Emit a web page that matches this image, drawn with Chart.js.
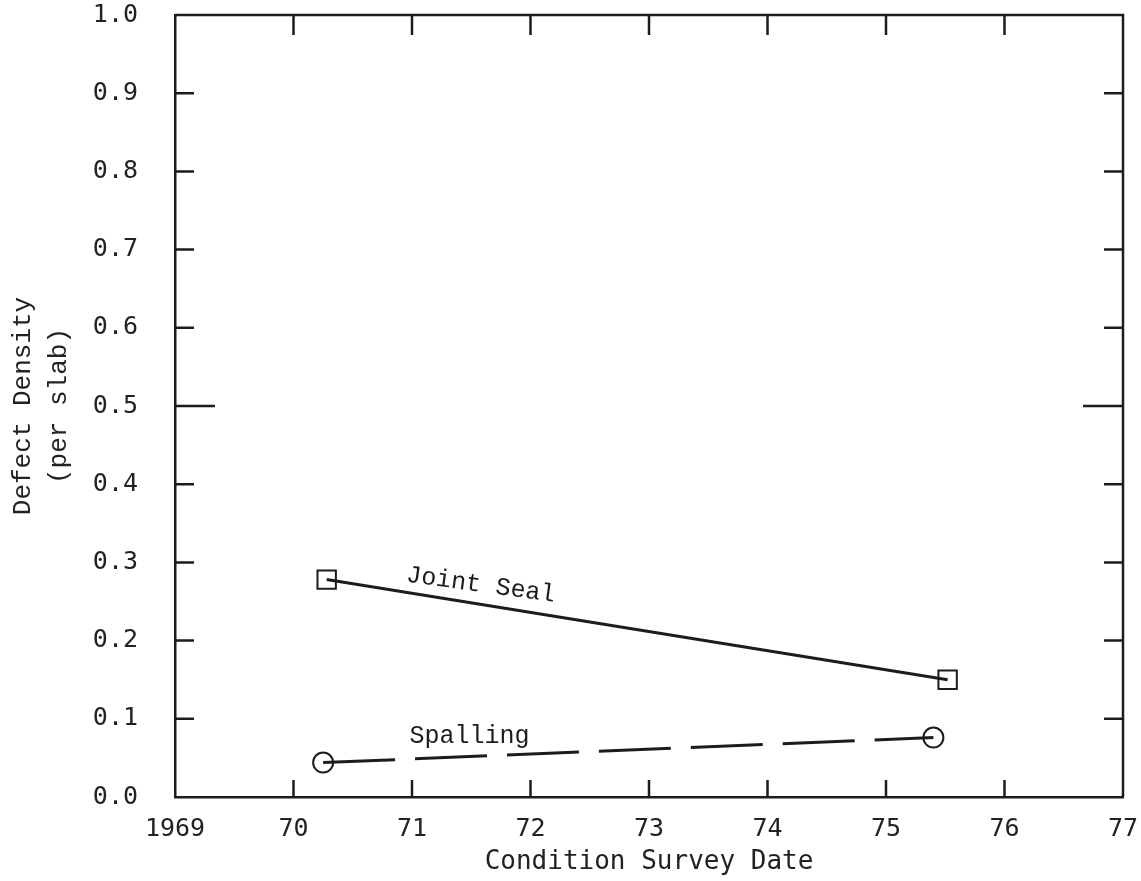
<!DOCTYPE html>
<html>
<head>
<meta charset="utf-8">
<script src="https://cdn.jsdelivr.net/npm/chart.js@4.4.1/dist/chart.umd.min.js"></script>
<style>
  html, body { margin: 0; padding: 0; background: #ffffff; }
  #wrap { width: 1141px; height: 881px; }
</style>
</head>
<body>
<div id="wrap"><canvas id="c" width="1141" height="881"></canvas></div>
<script>
// ---- data ----
const jointSealYears = [1970.28, 1975.52];
const jointSealValues = [0.278, 0.150];
const spallingYears = [1970.25, 1975.40];
const spallingValues = [0.044, 0.076];
const xTickValues = [1969, 1970, 1971, 1972, 1973, 1974, 1975, 1976, 1977];
const xTickLabels = ['1969', '70', '71', '72', '73', '74', '75', '76', '77'];
const yTickLabels = ['0.0', '0.1', '0.2', '0.3', '0.4', '0.5', '0.6', '0.7', '0.8', '0.9', '1.0'];
const seriesNames = ['Joint Seal', 'Spalling'];

const INK = '#1c1c1c';
const toPts = (xs, ys) => xs.map((x, i) => ({ x: x, y: ys[i] }));

// inward ticks, top/right frame and in-plot series labels
const framePlugin = {
  id: 'frame',
  afterDatasetsDraw(chart) {
    const { ctx, chartArea: a, scales: { x, y } } = chart;
    ctx.save();
    ctx.strokeStyle = INK;
    ctx.lineWidth = 2.5;
    ctx.lineCap = 'butt';
    // top and right frame
    ctx.beginPath();
    ctx.moveTo(a.left, a.top); ctx.lineTo(a.right, a.top); ctx.lineTo(a.right, a.bottom);
    ctx.stroke();
    // x ticks (top and bottom, inward)
    xTickValues.forEach((v, i) => {
      if (i === 0 || i === xTickValues.length - 1) return;
      const px = x.getPixelForValue(v);
      ctx.beginPath();
      ctx.moveTo(px, a.top); ctx.lineTo(px, a.top + 20);
      ctx.moveTo(px, a.bottom); ctx.lineTo(px, a.bottom - 17);
      ctx.stroke();
    });
    // y ticks (left and right, inward)
    yTickLabels.forEach((lab, i) => {
      if (i === 0 || i === yTickLabels.length - 1) return;
      const py = y.getPixelForValue(parseFloat(lab));
      const len = lab === '0.5' ? 40 : 19;
      ctx.beginPath();
      ctx.moveTo(a.left, py); ctx.lineTo(a.left + len, py);
      ctx.moveTo(a.right, py); ctx.lineTo(a.right - len, py);
      ctx.stroke();
    });
    // series labels
    ctx.fillStyle = INK;
    ctx.font = '25px "Liberation Mono", monospace';
    ctx.textAlign = 'center';
    ctx.textBaseline = 'middle';
    // Joint Seal label along its line
    const jx0 = x.getPixelForValue(jointSealYears[0]), jy0 = y.getPixelForValue(jointSealValues[0]);
    const jx1 = x.getPixelForValue(jointSealYears[1]), jy1 = y.getPixelForValue(jointSealValues[1]);
    const ang = Math.atan2(jy1 - jy0, jx1 - jx0) * 0.85;
    const t = 0.245;
    const lx = jx0 + (jx1 - jx0) * t, ly = jy0 + (jy1 - jy0) * t;
    ctx.save();
    ctx.translate(lx + 2, ly - 19);
    ctx.rotate(ang);
    ctx.fillText(seriesNames[0], 0, 0);
    ctx.restore();
    // Spalling label
    const sx0 = x.getPixelForValue(spallingYears[0]), sy0 = y.getPixelForValue(spallingValues[0]);
    const sx1 = x.getPixelForValue(spallingYears[1]), sy1 = y.getPixelForValue(spallingValues[1]);
    const s = 0.24;
    ctx.fillText(seriesNames[1], sx0 + (sx1 - sx0) * s, sy0 + (sy1 - sy0) * s - 20);
    ctx.restore();
  }
};

new Chart(document.getElementById('c'), {
  type: 'scatter',
  data: {
    datasets: [
      {
        label: seriesNames[0],
        data: toPts(jointSealYears, jointSealValues),
        showLine: true,
        borderColor: INK,
        borderWidth: 3,
        pointStyle: 'rect',
        pointRadius: 13,
        pointBorderWidth: 2,
        pointBorderColor: INK,
        pointBackgroundColor: 'rgba(0,0,0,0)'
      },
      {
        label: seriesNames[1],
        data: toPts(spallingYears, spallingValues),
        showLine: true,
        borderColor: INK,
        borderWidth: 3,
        borderDash: [72, 20],
        pointStyle: 'circle',
        pointRadius: 10,
        pointBorderWidth: 2,
        pointBorderColor: INK,
        pointBackgroundColor: 'rgba(0,0,0,0)'
      }
    ]
  },
  options: {
    responsive: false,
    devicePixelRatio: 1,
    animation: false,
    events: [],
    layout: { padding: { top: 12, right: 18, left: 0, bottom: 0 } },
    plugins: { legend: { display: false }, tooltip: { enabled: false } },
    scales: {
      x: {
        type: 'linear',
        min: 1969, max: 1977,
        afterBuildTicks: (sc) => { sc.ticks = xTickValues.map(v => ({ value: v })); },
        afterFit: (sc) => { sc.height = 84; sc.paddingLeft = 0; sc.paddingRight = 0; },
        grid: { display: false, drawTicks: false },
        border: { display: true, color: INK, width: 2.5 },
        ticks: {
          color: '#222',
          padding: 17,
          maxRotation: 0,
          autoSkip: false,
          font: { family: '"DejaVu Sans Mono", monospace', size: 25 },
          callback: (v) => xTickLabels[xTickValues.indexOf(v)]
        },
        title: {
          display: true,
          text: 'Condition Survey Date',
          color: '#222',
          font: { family: '"DejaVu Sans Mono", monospace', size: 26, lineHeight: 1.2 },
          padding: { top: 0, bottom: 3 }
        }
      },
      y: {
        type: 'linear',
        min: 0, max: 1,
        afterBuildTicks: (sc) => { sc.ticks = yTickLabels.map(l => ({ value: parseFloat(l) })); },
        afterFit: (sc) => { sc.width = 175; sc.paddingTop = 0; sc.paddingBottom = 0; },
        grid: { display: false, drawTicks: false },
        border: { display: true, color: INK, width: 2.5 },
        ticks: {
          color: '#222',
          padding: 37,
          autoSkip: false,
          font: { family: '"DejaVu Sans Mono", monospace', size: 25 },
          callback: (v) => yTickLabels[Math.round(v * 10)]
        },
        title: {
          display: true,
          text: ['Defect Density', '(per slab)'],
          color: '#222',
          font: { family: '"Liberation Mono", monospace', size: 26, lineHeight: 1.35 },
          padding: { top: 6, bottom: 0 }
        }
      }
    }
  },
  plugins: [framePlugin]
});
</script>
</body>
</html>
